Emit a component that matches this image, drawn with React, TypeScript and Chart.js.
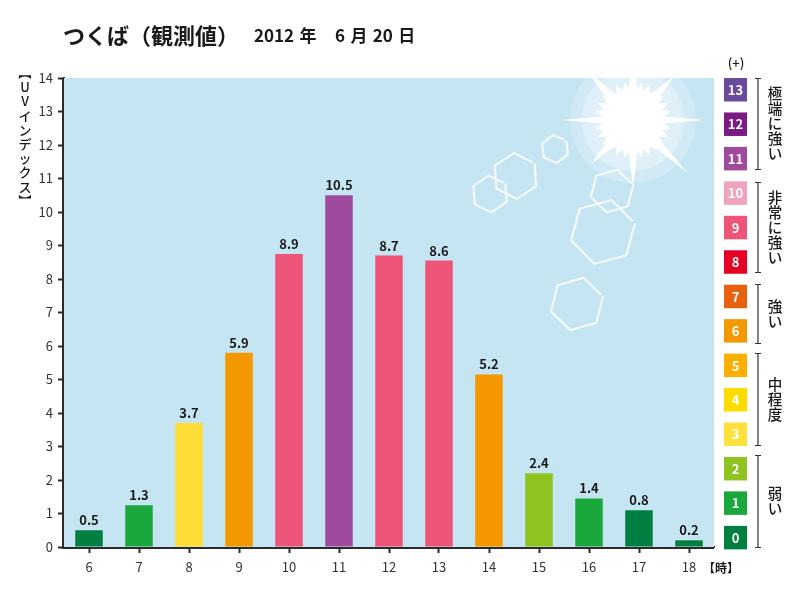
import { useEffect, useRef } from "react"
import { Chart, registerables } from "chart.js"

Chart.register(...registerables)

const hours = ["6", "7", "8", "9", "10", "11", "12", "13", "14", "15", "16", "17", "18"]
// height of the bars as drawn (the printed labels differ slightly in the source)
const barHeights = [0.5, 1.25, 3.7, 5.8, 8.75, 10.5, 8.7, 8.55, 5.15, 2.2, 1.45, 1.1, 0.2]
const valueLabels = ["0.5", "1.3", "3.7", "5.9", "8.9", "10.5", "8.7", "8.6", "5.2", "2.4", "1.4", "0.8", "0.2"]
const barColors = [
  "#007f41", "#1aa83c", "#fddd36", "#f39800", "#ee5378", "#a04a9e", "#ee5378",
  "#ee5378", "#f39800", "#8fc31f", "#1aa83c", "#007f41", "#007f41",
]

const scaleLevels = ["13", "12", "11", "10", "9", "8", "7", "6", "5", "4", "3", "2", "1", "0"]
const scaleColors = [
  "#6a4a9c", "#7b1a85", "#a04a9e", "#f0a3bd", "#ee5378", "#e60026", "#e8610f",
  "#f39800", "#fbb000", "#ffdc00", "#ffe03c", "#8fc31f", "#1aa83c", "#007f41",
]
const groupNames = ["極端に強い", "非常に強い", "強い", "中程度", "弱い"]
const groupSpans = [[78, 169], [182, 272], [284, 343], [353, 445], [455, 547]]

const FONT = '"Noto Sans CJK JP", "Noto Sans", sans-serif'
const DARK = "#2b2b2b"

// outline with a small gap at the end, like the drawn ice crystals
function drawHex(ctx: CanvasRenderingContext2D, cx: number, cy: number, r: number, rot: number) {
  const pt = (i: number) => {
    const a = rot + (i * Math.PI) / 3
    return [cx + r * Math.cos(a), cy + r * Math.sin(a)]
  }
  ctx.beginPath()
  for (let i = 0; i < 6; i++) {
    const [px, py] = pt(i)
    if (i === 0) ctx.moveTo(px, py)
    else ctx.lineTo(px, py)
  }
  const [ax, ay] = pt(5)
  const [bx, by] = pt(6)
  ctx.lineTo(ax + (bx - ax) * 0.9, ay + (by - ay) * 0.9)
  ctx.stroke()
}

function drawSun(ctx: CanvasRenderingContext2D, cx: number, cy: number) {
  ctx.fillStyle = "rgba(255,255,255,0.22)"
  ctx.beginPath()
  ctx.arc(cx, cy, 63, 0, Math.PI * 2)
  ctx.fill()
  ctx.fillStyle = "rgba(255,255,255,0.3)"
  ctx.beginPath()
  ctx.arc(cx, cy, 51, 0, Math.PI * 2)
  ctx.fill()

  // spiky core
  ctx.fillStyle = "#fff"
  ctx.beginPath()
  const spikes = 28
  for (let i = 0; i < spikes * 2; i++) {
    const r = i % 2 === 0 ? 39 : 31
    const a = (i * Math.PI) / spikes
    ctx.lineTo(cx + r * Math.cos(a), cy + r * Math.sin(a))
  }
  ctx.closePath()
  ctx.fill()

  // long rays: angle, length, half width at the core
  const rays = [
    [0, 71, 3.5], [Math.PI, 71, 3.5], [Math.PI / 2, 68, 4.5], [-Math.PI / 2, 68, 4.5],
    [0.77, 76, 4.5], [Math.PI - 0.81, 60, 4.5], [-0.82, 60, 4.5], [Math.PI + 0.82, 70, 4.5],
  ]
  rays.forEach(([a, len, w]) => {
    const nx = -Math.sin(a) * w
    const ny = Math.cos(a) * w
    const bx = cx + 30 * Math.cos(a)
    const by = cy + 30 * Math.sin(a)
    ctx.beginPath()
    ctx.moveTo(bx + nx, by + ny)
    ctx.lineTo(cx + len * Math.cos(a), cy + len * Math.sin(a))
    ctx.lineTo(bx - nx, by - ny)
    ctx.closePath()
    ctx.fill()
  })
}

// one character per line, top to bottom
function drawVertical(ctx: CanvasRenderingContext2D, text: string, x: number, y: number, step: number) {
  ctx.textAlign = "center"
  ctx.textBaseline = "middle"
  Array.from(text).forEach((ch, i) => {
    const cy = y + i * step
    if (ch === "【" || ch === "】") {
      ctx.save()
      ctx.translate(x, cy)
      ctx.rotate(Math.PI / 2)
      ctx.fillText(ch, 0, 0)
      ctx.restore()
    } else {
      ctx.fillText(ch, x, cy)
    }
  })
}

const decorPlugin = {
  id: "decor",
  beforeDatasetsDraw(chart: Chart) {
    const { ctx, chartArea: a } = chart
    ctx.save()
    ctx.fillStyle = "#c5e5f3"
    ctx.fillRect(a.left, a.top, a.right - a.left, a.bottom - a.top)
    ctx.beginPath()
    ctx.rect(a.left, a.top, a.right - a.left, a.bottom - a.top)
    ctx.clip()
    drawSun(ctx, 633, 120)
    ctx.strokeStyle = "rgba(255,255,255,0.85)"
    ctx.lineWidth = 2
    ctx.lineJoin = "round"
    drawHex(ctx, 555, 149, 14, -0.65)
    drawHex(ctx, 515.5, 176, 23, -0.58)
    drawHex(ctx, 490, 194, 18.5, -0.6)
    drawHex(ctx, 612, 191, 22, -0.28)
    drawHex(ctx, 603, 232, 33, -0.26)
    drawHex(ctx, 577, 304, 27, -0.28)
    ctx.restore()
  },
  afterDatasetsDraw(chart: Chart) {
    const { ctx, scales } = chart
    const bars = chart.getDatasetMeta(0).data
    ctx.save()
    // axis lines again so they sit on top of the blue field
    ctx.strokeStyle = DARK
    ctx.lineWidth = 2
    ctx.beginPath()
    ctx.moveTo(scales.x.left - 1, scales.y.top)
    ctx.lineTo(scales.x.left - 1, scales.y.bottom + 1)
    ctx.lineTo(scales.x.right, scales.y.bottom + 1)
    ctx.stroke()

    ctx.fillStyle = "#1a1a1a"
    ctx.font = `bold 13px ${FONT}`
    ctx.textAlign = "center"
    ctx.textBaseline = "alphabetic"
    bars.forEach((bar, i) => {
      ctx.fillText(valueLabels[i], bar.x, bar.y - 5)
    })
    ctx.restore()
  },
  afterDraw(chart: Chart) {
    const { ctx } = chart
    ctx.save()

    // heading
    ctx.fillStyle = "#1a1a1a"
    ctx.textBaseline = "middle"
    ctx.textAlign = "left"
    ctx.font = `bold 22px ${FONT}`
    ctx.fillText("つくば（観測値）", 63, 36)
    ctx.font = `bold 17px ${FONT}`
    ctx.wordSpacing = "1.5px"
    ctx.fillText("2012 年", 254, 36)
    ctx.fillText("6 月 20 日", 335, 36)
    ctx.wordSpacing = "0px"

    // axis names
    ctx.font = `500 13px ${FONT}`
    drawVertical(ctx, "【UVインデックス】", 25, 73, 14.2)
    ctx.textAlign = "left"
    ctx.font = `bold 12px ${FONT}`
    ctx.textBaseline = "middle"
    ctx.fillText("【時】", 703, 568)

    // index scale squares on the right
    scaleLevels.forEach((level, i) => {
      const top = 78 + i * 34.45
      ctx.fillStyle = scaleColors[i]
      ctx.fillRect(724, top, 23, 23.5)
      ctx.fillStyle = "#fff"
      ctx.font = `bold 13px ${FONT}`
      ctx.textAlign = "center"
      ctx.textBaseline = "middle"
      ctx.fillText(level, 735.5, top + 12)
    })
    ctx.fillStyle = "#1a1a1a"
    ctx.font = `500 13px ${FONT}`
    ctx.fillText("(+)", 736, 63)

    // group brackets with names
    ctx.strokeStyle = "#333"
    ctx.lineWidth = 1.2
    groupSpans.forEach(([y0, y1], i) => {
      ctx.beginPath()
      ctx.moveTo(755, y0 + 0.5)
      ctx.lineTo(761, y0 + 0.5)
      ctx.moveTo(758, y0)
      ctx.lineTo(758, y1)
      ctx.moveTo(755, y1 + 0.5)
      ctx.lineTo(761, y1 + 0.5)
      ctx.stroke()
      const name = groupNames[i]
      const step = 15
      const start = (y0 + y1) / 2 - ((name.length - 1) * step) / 2
      ctx.fillStyle = "#1a1a1a"
      ctx.font = `500 14.5px ${FONT}`
      drawVertical(ctx, name, 775, start, step)
    })
    ctx.restore()
  },
}

export default function App() {
  const canvasRef = useRef<HTMLCanvasElement>(null)

  useEffect(() => {
    if (!canvasRef.current) return
    const chart = new Chart(canvasRef.current, {
      type: "bar",
      data: {
        labels: hours,
        datasets: [
          {
            data: barHeights,
            backgroundColor: barColors,
            barPercentage: 0.55,
            categoryPercentage: 1,
          },
        ],
      },
      options: {
        responsive: false,
        animation: false,
        layout: { padding: { top: 78, right: 86, left: 0, bottom: 0 } },
        plugins: { legend: { display: false }, tooltip: { enabled: false } },
        scales: {
          x: {
            afterFit: (s) => {
              s.height = 53
            },
            grid: { offset: false, drawOnChartArea: false, color: DARK, tickLength: 6, tickWidth: 2 },
            border: { color: DARK, width: 2 },
            ticks: { color: "#333", font: { family: FONT, size: 13 }, maxRotation: 0, padding: 6 },
          },
          y: {
            min: 0,
            max: 14,
            afterFit: (s) => {
              s.width = 64
            },
            grid: { drawOnChartArea: false, color: DARK, tickLength: 6, tickWidth: 2 },
            border: { color: DARK, width: 2 },
            ticks: { stepSize: 1, color: "#333", font: { family: FONT, size: 13 }, padding: 5 },
          },
        },
      },
      plugins: [decorPlugin],
    })
    return () => chart.destroy()
  }, [])

  return (
    <div style={{ position: "absolute", left: 0, top: 0, width: 800, height: 600, background: "#fff" }}>
      <canvas ref={canvasRef} width={800} height={600} style={{ display: "block" }} />
    </div>
  )
}
